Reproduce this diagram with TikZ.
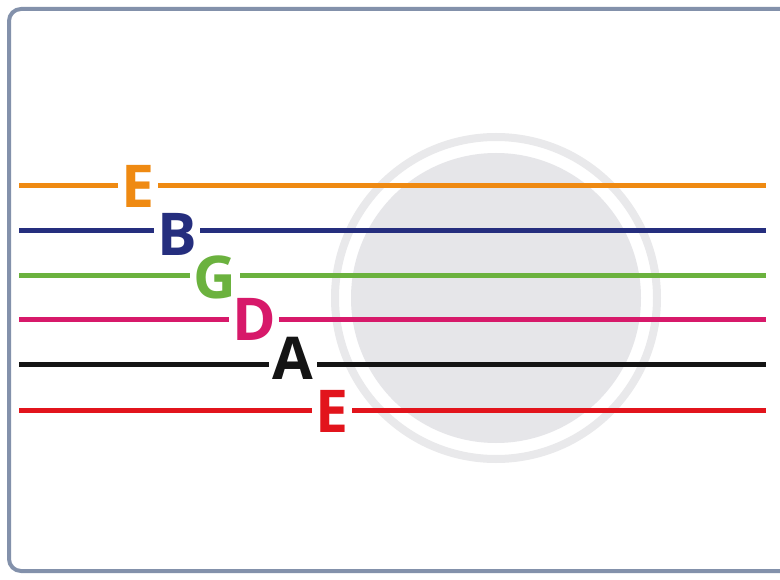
\documentclass[tikz,border=0pt]{standalone}
\usepackage{fontspec}
\setmainfont{Open Sans}
\definecolor{frameC}{HTML}{8391AB}
\definecolor{ringC}{HTML}{E9E9EB}
\definecolor{discC}{HTML}{E6E6E9}
\definecolor{cOrange}{HTML}{EF8A12}
\definecolor{cNavy}{HTML}{252E7E}
\definecolor{cGreen}{HTML}{6BB23E}
\definecolor{cPink}{HTML}{D7196A}
\definecolor{cBlack}{HTML}{141414}
\definecolor{cRed}{HTML}{E2141C}
\tikzset{
  stringline/.style={line width=5pt},
  notelabel/.style={fill=white, inner xsep=3.5pt, inner ysep=0pt, outer sep=0pt,
    font=\fontsize{59}{59}\selectfont\bfseries, anchor=center}
}
\begin{document}
\begin{tikzpicture}[x=1pt,y=-1pt]
\useasboundingbox (0,0) rectangle (780,580);
\clip (0,0) rectangle (780,580);
\fill[white] (0,0) rectangle (780,580);
\draw[frameC, line width=4pt, rounded corners=12pt] (9,9) rectangle (800,571);
% sound hole
\draw[ringC, line width=8pt] (496,298) circle[radius=161];
\fill[discC] (496,298) circle[radius=145];
% string end points
\foreach \n/\y in {1/186,2/231,3/276,4/320,5/365,6/410}{
  \coordinate (L\n) at (19,\y);
  \coordinate (R\n) at (766,\y);
}
\draw[stringline, cOrange] (L1) -- (R1);
\draw[stringline, cNavy] (L2) -- (R2);
\draw[stringline, cGreen] (L3) -- (R3);
\draw[stringline, cPink] (L4) -- (R4);
\draw[stringline, cBlack] (L5) -- (R5);
\draw[stringline, cRed] (L6) -- (R6);
\node[notelabel, text=cOrange] (e1) at (138,186) {E};
\node[notelabel, text=cNavy] (b) at (177,234) {B};
\node[notelabel, text=cGreen] (g) at (215,277) {G};
\node[notelabel, text=cPink] (d) at (254,319) {D};
\node[notelabel, text=cBlack] (a) at (293,358) {A};
\node[notelabel, text=cRed] (e6) at (332,411) {E};
\end{tikzpicture}
\end{document}
